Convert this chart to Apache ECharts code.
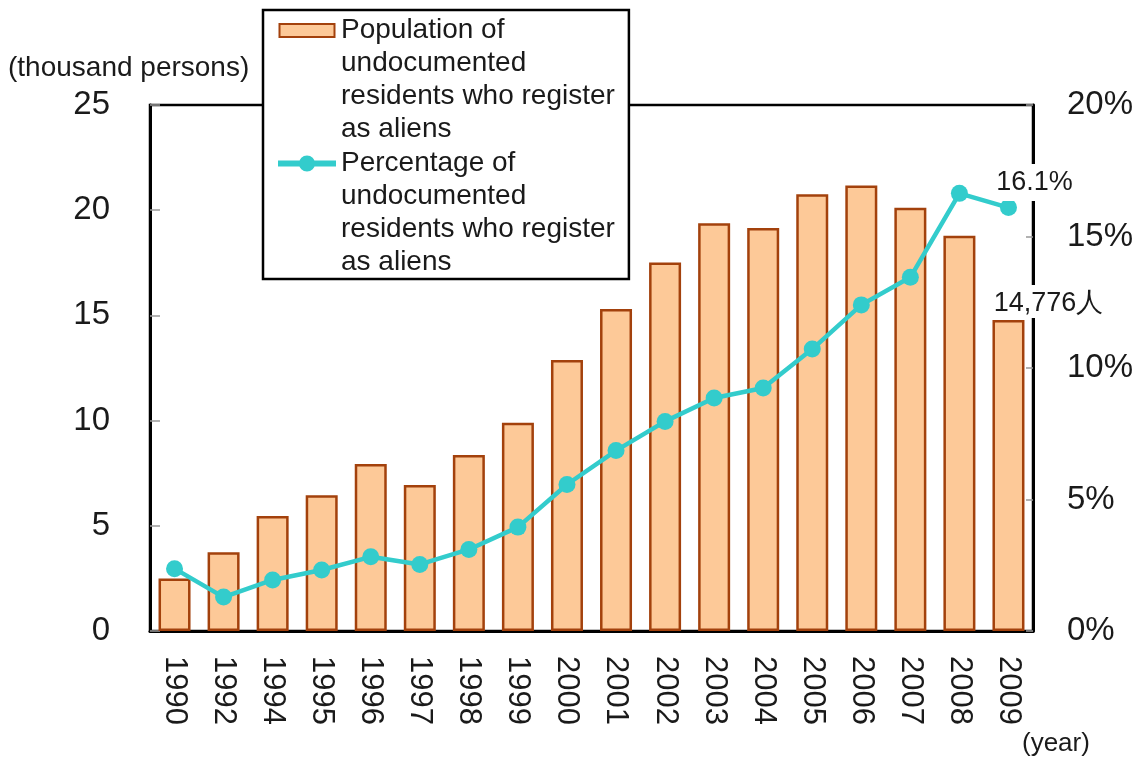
<!DOCTYPE html>
<html>
<head>
<meta charset="utf-8">
<script src="https://cdn.jsdelivr.net/npm/echarts@6/dist/echarts.min.js"></script>
<style>
  html, body { margin: 0; padding: 0; background: #fff; }
  #chart { width: 1138px; height: 761px; }
</style>
</head>
<body>
<div id="chart"></div>
<script>
  // data
  const years = ['1990', '1992', '1994', '1995', '1996', '1997', '1998', '1999', '2000',
    '2001', '2002', '2003', '2004', '2005', '2006', '2007', '2008', '2009'];
  // thousand persons
  const population = [2.50, 3.74, 5.47, 6.45, 7.94, 6.94, 8.37, 9.90, 12.88,
    15.30, 17.51, 19.38, 19.15, 20.76, 21.17, 20.12, 18.78, 14.776];
  // percent
  const percentage = [2.37, 1.29, 1.94, 2.32, 2.82, 2.53, 3.10, 3.95, 5.57,
    6.86, 7.97, 8.86, 9.24, 10.72, 12.40, 13.45, 16.64, 16.1];
  const leftTicks = [0, 25, 5];   // min, max, interval
  const rightTicks = [0, 20, 5];

  const barName = 'Population of\nundocumented\nresidents who register\nas aliens';
  const lineName = 'Percentage of\nundocumented\nresidents who register\nas aliens';

  const FONT = 'Liberation Sans, Arial, sans-serif';
  const TEXT = '#1a1a1a';

  // legend icons sit next to the first line of a 4-line label, so the icon box is as tall as the text
  const barIcon = 'path://M0,0 L0,0 M1.5,10 L56.5,10 L56.5,23 L1.5,23 Z M58,132 L58,132';
  const lineIcon = 'path://M0,0 L0,0 M0,13.5 L58,13.5 L58,19.5 L0,19.5 Z ' +
    'M37,16.5 A8,8 0 1,1 21,16.5 A8,8 0 1,1 37,16.5 Z M58,132 L58,132';

  const myChart = echarts.init(document.getElementById('chart'));

  const barData = population.map((v, i) => {
    if (i === population.length - 1) {
      return {
        value: v,
        label: {
          show: true, position: 'top', distance: 6, offset: [40, 4],
          formatter: '14,776人', fontSize: 27, color: TEXT, fontFamily: FONT,
          backgroundColor: '#fff', padding: [5, 2, 1, 2]
        }
      };
    }
    return v;
  });
  const lineData = percentage.map((v, i) => {
    if (i === percentage.length - 1) {
      return {
        value: v,
        label: {
          show: true, position: 'top', distance: 6, offset: [26, 8],
          formatter: '{c}%', fontSize: 27, color: TEXT, fontFamily: FONT,
          backgroundColor: '#fff', padding: [5, 2, 5, 2]
        }
      };
    }
    return v;
  });

  const option = {
    animation: false,
    backgroundColor: '#fff',
    textStyle: { fontFamily: FONT },
    grid: {
      left: 150, right: 105, top: 105, bottom: 130,
      containLabel: false, outerBoundsMode: 'none',
      show: true, borderColor: '#000', borderWidth: 2.5, backgroundColor: 'transparent'
    },
    legend: {
      orient: 'vertical',
      left: 263, top: 10,
      padding: [3, 14, 0, 14],
      itemGap: 0,
      itemWidth: 58, itemHeight: 132,
      backgroundColor: '#fff',
      borderColor: '#000', borderWidth: 2.5,
      textStyle: { fontSize: 28, lineHeight: 33, color: TEXT, fontFamily: FONT },
      data: [
        { name: barName, icon: barIcon },
        { name: lineName, icon: lineIcon, itemStyle: { color: '#33CCCC', borderWidth: 0 } }
      ]
    },
    xAxis: {
      type: 'category',
      data: years,
      axisLine: { lineStyle: { color: '#000', width: 3 } },
      axisTick: { inside: true, length: 8, lineStyle: { color: '#999', width: 1.5 } },
      axisLabel: { rotate: -90, margin: 25, fontSize: 31, color: TEXT, fontFamily: FONT }
    },
    yAxis: [
      {
        type: 'value',
        min: leftTicks[0], max: leftTicks[1], interval: leftTicks[2],
        axisLine: { show: true, lineStyle: { color: '#000', width: 3 } },
        axisTick: { show: true, inside: true, length: 10, lineStyle: { color: '#999', width: 1.5 } },
        axisLabel: { margin: 40, fontSize: 33, color: TEXT, fontFamily: FONT },
        splitLine: { show: false }
      },
      {
        type: 'value',
        min: rightTicks[0], max: rightTicks[1], interval: rightTicks[2],
        axisLine: { show: true, lineStyle: { color: '#000', width: 3 } },
        axisTick: { show: true, inside: true, length: 7, lineStyle: { color: '#999', width: 1.5 } },
        axisLabel: { margin: 34, fontSize: 33, color: TEXT, fontFamily: FONT, formatter: '{value}%' },
        splitLine: { show: false }
      }
    ],
    series: [
      {
        name: barName,
        type: 'bar',
        data: barData,
        barWidth: 32,
        itemStyle: { color: '#FDC998', borderColor: '#A3410C', borderWidth: 2.5 },
        z: 2
      },
      {
        name: lineName,
        type: 'line',
        yAxisIndex: 1,
        data: lineData,
        symbol: 'circle',
        symbolSize: 17,
        itemStyle: { color: '#33CCCC' },
        lineStyle: { color: '#33CCCC', width: 4.5 },
        z: 3
      }
    ],
    graphic: [
      {
        type: 'text', left: 8, top: 54,
        style: { text: '(thousand persons)', fill: TEXT, font: '28px ' + FONT }
      },
      {
        type: 'text', left: 1022, top: 731,
        style: { text: '(year)', fill: TEXT, font: '26px ' + FONT }
      }
    ]
  };
  option && myChart.setOption(option);
</script>
</body>
</html>
